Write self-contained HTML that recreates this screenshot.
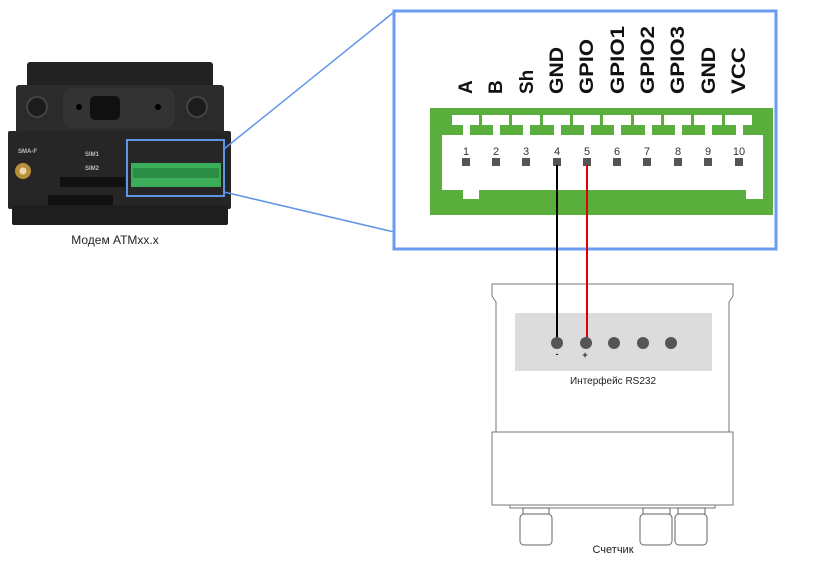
<!DOCTYPE html>
<html><head><meta charset="utf-8"><style>
html,body{margin:0;padding:0;background:#fff;}
svg{display:block;}
text{font-family:"Liberation Sans",sans-serif;}
</style></head><body>
<svg width="827" height="562" viewBox="0 0 827 562" xmlns="http://www.w3.org/2000/svg">
<!-- Modem -->
<rect x="27" y="62" width="186" height="30" rx="3" fill="#222"/>
<rect x="16" y="85" width="208" height="48" rx="3" fill="#2b2b2b"/>
<rect x="63" y="88" width="112" height="40" rx="10" fill="#333"/>
<rect x="90" y="96" width="30" height="24" rx="5" fill="#111"/>
<circle cx="79" cy="107" r="3" fill="#000"/><circle cx="158" cy="107" r="3" fill="#000"/>
<circle cx="37" cy="107" r="10" fill="#1c1c1c" stroke="#444" stroke-width="2"/>
<circle cx="197" cy="107" r="10" fill="#1c1c1c" stroke="#444" stroke-width="2"/>
<rect x="8" y="131" width="223" height="78" rx="2" fill="#262626"/>
<rect x="12" y="205" width="216" height="20" rx="2" fill="#1e1e1e"/>
<text x="18" y="153" font-size="6" fill="#bbb" font-weight="bold">SMA-F</text>
<text x="85" y="156" font-size="6" fill="#bbb" font-weight="bold">SIM1</text>
<text x="85" y="170" font-size="6" fill="#bbb" font-weight="bold">SIM2</text>
<circle cx="23" cy="171" r="8" fill="#b8903a"/><circle cx="23" cy="171" r="3.5" fill="#e9d9b0"/>
<rect x="60" y="177" width="65" height="10" fill="#111"/>
<rect x="48" y="195" width="65" height="10" fill="#111"/>
<rect x="131" y="163" width="90" height="24" fill="#3cae5a"/>
<rect x="133" y="168" width="86" height="10" fill="#2c8d47"/>
<rect x="127" y="140" width="97" height="56" fill="none" stroke="#5f95e8" stroke-width="2"/>
<line x1="224" y1="149" x2="394" y2="12" stroke="#5f95e8" stroke-width="1.5"/>
<line x1="224" y1="192" x2="394" y2="232" stroke="#5f95e8" stroke-width="1.5"/>
<text x="115" y="244" font-size="12" fill="#222" text-anchor="middle">Модем АТМxx.x</text>

<!-- Big callout -->
<rect x="394" y="11" width="382" height="238" fill="#fff" stroke="#6a9cf0" stroke-width="3"/>
<g font-size="19" font-weight="bold" fill="#111">
<text transform="translate(472,94) rotate(-90)">A</text>
<text transform="translate(502,94) rotate(-90)">B</text>
<text transform="translate(533,94) rotate(-90)">Sh</text>
<text transform="translate(563,94) rotate(-90)" textLength="47" lengthAdjust="spacingAndGlyphs">GND</text>
<text transform="translate(593,94) rotate(-90)" textLength="55" lengthAdjust="spacingAndGlyphs">GPIO</text>
<text transform="translate(624,94) rotate(-90)" textLength="68" lengthAdjust="spacingAndGlyphs">GPIO1</text>
<text transform="translate(654,94) rotate(-90)" textLength="68" lengthAdjust="spacingAndGlyphs">GPIO2</text>
<text transform="translate(684,94) rotate(-90)" textLength="68" lengthAdjust="spacingAndGlyphs">GPIO3</text>
<text transform="translate(715,94) rotate(-90)" textLength="47" lengthAdjust="spacingAndGlyphs">GND</text>
<text transform="translate(745,94) rotate(-90)" textLength="47" lengthAdjust="spacingAndGlyphs">VCC</text>
</g>
<rect x="430" y="108" width="343" height="107" fill="#5aaf3c"/>
<rect x="442" y="135" width="321" height="55" fill="#fff"/>
<rect x="463" y="189" width="16" height="10" fill="#fff"/>
<rect x="746" y="189" width="17" height="10" fill="#fff"/>
<g fill="#fff">
<rect x="452" y="115" width="27" height="10"/><rect x="463" y="124" width="7" height="12"/>
<rect x="482" y="115" width="27" height="10"/><rect x="493" y="124" width="7" height="12"/>
<rect x="512" y="115" width="28" height="10"/><rect x="523" y="124" width="7" height="12"/>
<rect x="543" y="115" width="27" height="10"/><rect x="554" y="124" width="7" height="12"/>
<rect x="573" y="115" width="27" height="10"/><rect x="584" y="124" width="7" height="12"/>
<rect x="603" y="115" width="28" height="10"/><rect x="614" y="124" width="7" height="12"/>
<rect x="634" y="115" width="27" height="10"/><rect x="645" y="124" width="7" height="12"/>
<rect x="664" y="115" width="27" height="10"/><rect x="675" y="124" width="7" height="12"/>
<rect x="694" y="115" width="28" height="10"/><rect x="705" y="124" width="7" height="12"/>
<rect x="725" y="115" width="27" height="10"/><rect x="736" y="124" width="7" height="12"/>
</g>
<g font-size="11" fill="#333" text-anchor="middle">
<text x="466" y="155">1</text><text x="496" y="155">2</text><text x="526" y="155">3</text>
<text x="557" y="155">4</text><text x="587" y="155">5</text><text x="617" y="155">6</text>
<text x="647" y="155">7</text><text x="678" y="155">8</text><text x="708" y="155">9</text>
<text x="739" y="155">10</text>
</g>
<g fill="#555">
<rect x="462" y="158" width="8" height="8"/><rect x="492" y="158" width="8" height="8"/>
<rect x="522" y="158" width="8" height="8"/><rect x="553" y="158" width="8" height="8"/>
<rect x="583" y="158" width="8" height="8"/><rect x="613" y="158" width="8" height="8"/>
<rect x="643" y="158" width="8" height="8"/><rect x="674" y="158" width="8" height="8"/>
<rect x="704" y="158" width="8" height="8"/><rect x="735" y="158" width="8" height="8"/>
</g>

<!-- Meter -->
<path d="M492,284 H733 V296 L729,302 V432 H496 V302 L492,296 Z" fill="#fff" stroke="#777" stroke-width="1"/>
<rect x="515" y="313" width="197" height="58" fill="#dcdcdc"/>
<rect x="492" y="432" width="241" height="73" fill="#fff" stroke="#777" stroke-width="1"/>
<rect x="510" y="505" width="205" height="3" fill="#fff" stroke="#777" stroke-width="1"/>
<g fill="#fff" stroke="#666" stroke-width="1">
<rect x="523" y="508" width="26" height="6"/><rect x="520" y="514" width="32" height="31" rx="4"/>
<rect x="643" y="508" width="27" height="6"/><rect x="640" y="514" width="32" height="31" rx="4"/>
<rect x="678" y="508" width="27" height="6"/><rect x="675" y="514" width="32" height="31" rx="4"/>
</g>
<line x1="557" y1="165" x2="557" y2="342" stroke="#000" stroke-width="2"/>
<line x1="587" y1="165" x2="587" y2="342" stroke="#d00" stroke-width="2"/>
<g fill="#555">
<circle cx="557" cy="343" r="6"/><circle cx="586" cy="343" r="6"/><circle cx="614" cy="343" r="6"/>
<circle cx="643" cy="343" r="6"/><circle cx="671" cy="343" r="6"/>
</g>
<text x="557" y="357" font-size="9" text-anchor="middle" fill="#222" font-weight="bold">-</text>
<text x="585" y="358" font-size="9" text-anchor="middle" fill="#222" font-weight="bold">+</text>
<text x="613" y="384" font-size="10" text-anchor="middle" fill="#222">Интерфейс RS232</text>
<text x="613" y="553" font-size="11" text-anchor="middle" fill="#222">Счетчик</text>
</svg>
</body></html>
